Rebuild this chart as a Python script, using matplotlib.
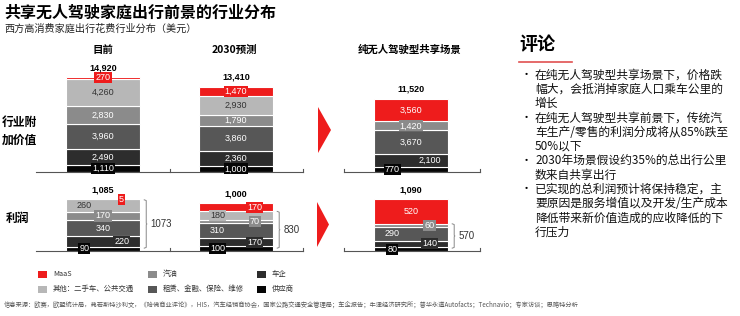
import numpy as np
import matplotlib.pyplot as plt
from matplotlib.patches import Rectangle, Polygon

plt.rcParams['font.family'] = ['Noto Sans CJK SC', 'DejaVu Sans']

# ---- data ----
segments = ['供应商', '车企', '租赁、金融、保险、维修', '汽油', '其他：二手车、公共交通', 'MaaS']
seg_colors = ['#050505', '#2d2d2d', '#575757', '#8b8b8b', '#b7b7b7', '#ee1c1c']
groups = ['目前', '2030预测', '纯无人驾驶型共享场景']

value_now = [1110, 2490, 3960, 2830, 4260, 270]
value_2030 = [1000, 2360, 3860, 1790, 2930, 1470]
value_shared = [770, 2100, 3670, 1420, 0, 3560]
value_totals = [14920, 13410, 11520]

profit_now = [90, 220, 340, 170, 260, 5]
profit_2030 = [100, 170, 310, 70, 180, 170]
profit_shared = [80, 140, 290, 60, 0, 520]
profit_totals = [1085, 1000, 1090]
profit_core = [1073, 830, 570]

# where the number sits in each segment (l / c / r)
value_pos = [['c'] * 6, ['c'] * 6, ['l', 'r', 'c', 'c', 'c', 'c']]
profit_pos = [['l', 'r', 'c', 'c', 'l', 'r'],
              ['l', 'r', 'l', 'r', 'l', 'r'],
              ['l', 'r', 'l', 'r', 'c', 'c']]

comments = [
    ['在纯无人驾驶型共享场景下，价格跌', '幅大，会抵消掉家庭人口乘车公里的', '增长'],
    ['在纯无人驾驶型共享前景下，传统汽', '车生产/零售的利润分成将从85%跌至', '50%以下'],
    ['2030年场景假设约35%的总出行公里', '数来自共享出行'],
    ['已实现的总利润预计将保持稳定，主', '要原因是服务增值以及开发/生产成本',
     '降低带来新价值造成的应收降低的下', '行压力'],
]

legend_order = [5, 3, 1, 4, 2, 0]

source = ('信息来源：欧赛，欧盟统计局，弗若斯特沙利文，《哈佛商业评论》，HIS，汽车经销商协会，'
          '国家公路交通安全管理局；车企报告；牛津经济研究所；普华永道Autofacts；Technavio；专家访谈；思略特分析')

W, H = 740, 316


def fx(x):
    return x / W


def fy(y):
    return 1 - y / H


fig = plt.figure(figsize=(7.4, 3.16), dpi=100)

group_x = [0, 1, 2.316]
bar_w = 0.55
xlim = (-0.504, 2.835)
offs = {'l': -0.14, 'c': 0.0, 'r': 0.14}
num_font = ['Liberation Sans', 'DejaVu Sans']


def draw_panel(ax, data, totals, pos, ymax, ax_h):
    ax.set_xlim(*xlim)
    ax.set_ylim(0, ymax)
    ax.axis('off')
    px_per = ax_h / ymax
    for gi, vals in enumerate(data):
        x = group_x[gi]
        bottom = 0
        for si, v in enumerate(vals):
            if v == 0:
                continue
            ax.bar(x, v, bar_w, bottom=bottom, color=seg_colors[si],
                   edgecolor='white', linewidth=0.8)
            tc = '#333333' if si == 4 else 'white'
            box = None
            if v * px_per < 11:
                box = dict(boxstyle='square,pad=0.12', fc=seg_colors[si], ec='none')
            ax.text(x + offs[pos[gi][si]], bottom + v / 2, f'{v:,}', ha='center',
                    va='center', fontsize=6.5, color=tc, bbox=box, family=num_font)
            bottom += v
        ax.annotate(f'{totals[gi]:,}', (x, totals[gi]), xytext=(0, 3.5),
                    textcoords='offset points', ha='center', va='bottom',
                    fontsize=6.5, fontweight='bold', family=num_font)
    # baselines with small end ticks
    tr = ax.get_xaxis_transform()
    tk = 3 / ax_h
    ax.plot([xlim[0], 1.504], [0, 0], color='#555555', lw=0.8, clip_on=False)
    ax.plot([1.81, xlim[1]], [0, 0], color='#555555', lw=0.8, clip_on=False)
    for t in [0.504, 1.504, 1.81, xlim[1]]:
        ax.plot([t, t], [0, tk], transform=tr, color='#555555', lw=0.8, clip_on=False)


ax_top = fig.add_axes([fx(36), fy(172), 444 / W, 112 / H])
draw_panel(ax_top, [value_now, value_2030, value_shared], value_totals, value_pos,
           17590, 112)

ax_bot = fig.add_axes([fx(36), fy(251), 444 / W, 61 / H])
draw_panel(ax_bot, [profit_now, profit_2030, profit_shared], profit_totals, profit_pos,
           1279, 61)

# brackets on profit bars
for gi, core in enumerate(profit_core):
    bx = group_x[gi] + 0.33
    lo = 60
    mid = (lo + core) / 2
    ax_bot.plot([bx - 0.02, bx - 0.005, bx - 0.005, bx, bx - 0.005, bx - 0.005, bx - 0.02],
                [lo, lo + 15, mid - 15, mid, mid + 15, core - 15, core],
                color='#888888', lw=0.7)
    ax_bot.text(bx + 0.025, mid, str(core), ha='left', va='center',
                fontsize=7, color='#333333', family=num_font)

# red arrows between scenarios
for (x0, x1, y0, y1) in [(318, 331, 107, 153), (317, 329, 202, 247)]:
    fig.add_artist(Polygon([(fx(x0), fy(y0)), (fx(x1), fy((y0 + y1) / 2)), (fx(x0), fy(y1))],
                           closed=True, fc='#ee1c1c', ec='none', transform=fig.transFigure))

# titles
fig.text(fx(4), fy(13), '共享无人驾驶家庭出行前景的行业分布', fontsize=11.5,
         fontweight='bold', va='center', ha='left')
fig.text(fx(4), fy(29), '西方高消费家庭出行花费行业分布（美元）', fontsize=7.3,
         va='center', ha='left', color='#222222')
for g, cx in zip(groups, [103, 234, 410]):
    fig.text(fx(cx), fy(50), g, fontsize=7.5, fontweight='bold', ha='center', va='center')

fig.text(fx(2), fy(131), '行业附\n加价值', fontsize=8.5, fontweight='bold',
         ha='left', va='center', linespacing=1.5)
fig.text(fx(6), fy(218), '利润', fontsize=8.5, fontweight='bold', ha='left', va='center')

# comments panel
fig.text(fx(519), fy(45), '评论', fontsize=13, fontweight='bold', ha='left', va='center')
fig.add_artist(plt.Line2D([fx(519), fx(572)], [fy(62), fy(62)], color='#e05050', lw=1.2))
yy = 75
for para in comments:
    fig.text(fx(521), fy(yy), '•', fontsize=8, ha='left', va='center')
    for line in para:
        fig.text(fx(535), fy(yy), line, fontsize=8.5, ha='left', va='center', color='#111111')
        yy += 14.3

# legend
for k, si in enumerate(legend_order):
    col, row = k % 3, k // 3
    lx = [38, 148, 257][col]
    ly = [274, 289][row]
    fig.add_artist(Rectangle((fx(lx), fy(ly + 3.5)), 9 / W, 7 / H, fc=seg_colors[si],
                             ec='none', transform=fig.transFigure))
    fig.text(fx(lx + 15), fy(ly), segments[si], fontsize=5.3, ha='left', va='center',
             color='#333333')

fig.text(fx(4), fy(305), source, fontsize=4.5, ha='left', va='center', color='#555555',
         style='italic')

fig.savefig('out.png', dpi=100)
